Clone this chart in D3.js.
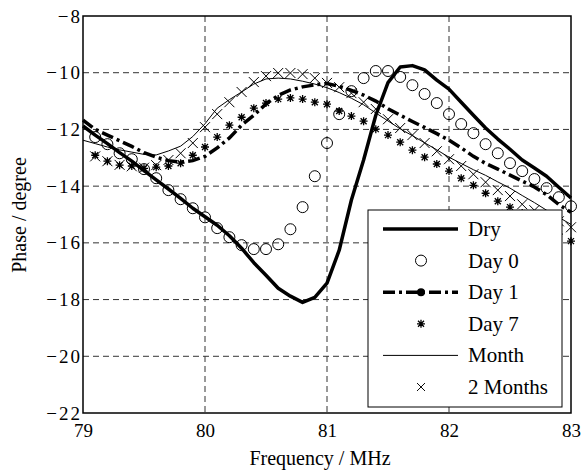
<!DOCTYPE html>
<html>
<head>
<meta charset="utf-8">
<script src="https://cdn.jsdelivr.net/npm/d3@7"></script>
<style>
  body { margin: 0; background: #fff; }
  svg, svg text { font-family: 'Liberation Serif', 'Times New Roman', Times, 'DejaVu Serif', serif !important; }
</style>
</head>
<body>
<div id="chart-area"></div>
<script>
// Frequency points of the measured curves (MHz)
var lineFreq = [79.0, 79.1, 79.2, 79.3, 79.4, 79.5, 79.6, 79.7, 79.8, 79.9,
  80.0, 80.1, 80.2, 80.3, 80.4, 80.5, 80.6, 80.7, 80.8, 80.9,
  81.0, 81.1, 81.2, 81.3, 81.4, 81.5, 81.6, 81.7, 81.8, 81.9,
  82.0, 82.1, 82.2, 82.3, 82.4, 82.5, 82.6, 82.7, 82.8, 82.9, 83.0];

// Frequency points of the marker-only series (MHz)
var markerFreq = [79.1, 79.2, 79.3, 79.4, 79.5, 79.6, 79.7, 79.8, 79.9,
  80.0, 80.1, 80.2, 80.3, 80.4, 80.5, 80.6, 80.7, 80.8, 80.9,
  81.0, 81.1, 81.2, 81.3, 81.4, 81.5, 81.6, 81.7, 81.8, 81.9,
  82.0, 82.1, 82.2, 82.3, 82.4, 82.5, 82.6, 82.7, 82.8, 82.9, 83.0];

// Phase (degree)
var dryPhase = [-11.88, -12.2, -12.5, -12.82, -13.12, -13.45, -13.78, -14.1, -14.43, -14.78,
  -15.08, -15.38, -15.75, -16.19, -16.7, -17.14, -17.6, -17.88, -18.1, -17.92,
  -17.42, -16.26, -14.49, -13.08, -11.5, -10.35, -9.8, -9.75, -9.9, -10.26,
  -10.58, -11.04, -11.5, -11.95, -12.34, -12.7, -13.08, -13.36, -13.65, -14.04, -14.42];

var day0Phase = [-12.27, -12.52, -12.84, -13.05, -13.40, -13.72, -14.14, -14.46, -14.78,
  -15.10, -15.48, -15.80, -16.08, -16.22, -16.22, -16.05, -15.52, -14.74, -13.65,
  -12.48, -11.46, -10.65, -10.19, -9.94, -9.94, -10.15, -10.44, -10.75, -11.07,
  -11.46, -11.81, -12.13, -12.52, -12.84, -13.19, -13.47, -13.75, -14.07, -14.39, -14.71];

var day1Phase = [-11.67, -12.0, -12.2, -12.4, -12.6, -12.82, -12.98, -13.1, -13.15, -13.1,
  -12.95, -12.65, -12.3, -11.85, -11.5, -11.1, -10.8, -10.61, -10.5, -10.43,
  -10.38, -10.48, -10.62, -10.79, -11.0, -11.27, -11.5, -11.72, -11.93, -12.15,
  -12.38, -12.65, -12.95, -13.2, -13.4, -13.61, -13.82, -14.03, -14.3, -14.65, -14.92];

var day7Phase = [-12.91, -13.12, -13.26, -13.29, -13.37, -13.33, -13.29, -13.19, -12.91,
  -12.62, -12.27, -11.85, -11.57, -11.25, -11.07, -10.93, -10.89, -10.93, -11.04,
  -11.11, -11.35, -11.53, -11.71, -11.99, -12.20, -12.45, -12.73, -12.98, -13.22,
  -13.47, -13.72, -13.97, -14.25, -14.53, -14.74, -14.95, -15.20, -15.45, -15.69, -15.94];

var monthPhase = [-12.38, -12.5, -12.62, -12.72, -12.8, -12.88, -12.9, -12.76, -12.59, -12.25,
  -11.8, -11.25, -10.95, -10.68, -10.4, -10.22, -10.19, -10.22, -10.3, -10.4,
  -10.53, -10.7, -10.9, -11.13, -11.42, -11.7, -11.98, -12.22, -12.47, -12.72,
  -12.98, -13.2, -13.42, -13.62, -13.85, -14.07, -14.33, -14.58, -14.85, -15.1, -15.35];

var month2Phase = [-12.95, -13.12, -13.25, -13.30, -13.35, -13.26, -13.08, -12.84, -12.48,
  -11.92, -11.46, -11.04, -10.68, -10.33, -10.12, -10.01, -10.01, -10.05, -10.19,
  -10.36, -10.51, -10.72, -11.04, -11.28, -11.64, -11.95, -12.20, -12.48, -12.77,
  -13.05, -13.29, -13.58, -13.86, -14.14, -14.35, -14.64, -14.85, -15.02, -15.24, -15.45];

var xTicks = [79, 80, 81, 82, 83];
var yTicks = [-22, -20, -18, -16, -14, -12, -10, -8];
var legendNames = ["Dry", "Day 0", "Day 1", "Day 7", "Month", "2 Months"];

// Chart setup
var margin = { left: 83, right: 10, top: 16, bottom: 59 };
var width = 581 - margin.left - margin.right;
var height = 472 - margin.top - margin.bottom;
var serif = "'Liberation Serif', 'Times New Roman', serif";

var svg = d3.select("#chart-area")
  .append("svg")
  .attr("width", 581)
  .attr("height", 472)
  .attr("font-family", serif);

var g = svg.append("g")
  .attr("transform", "translate(" + margin.left + ", " + margin.top + ")");

var xScale = d3.scaleLinear().domain([79, 83]).range([0, width]);
var yScale = d3.scaleLinear().domain([-22, -8]).range([height, 0]);

/* Grid */
g.append("g").selectAll("line")
  .data(xTicks.slice(1, -1)).enter()
  .append("line")
  .attr("x1", d => xScale(d)).attr("x2", d => xScale(d))
  .attr("y1", 0).attr("y2", height)
  .attr("stroke", "#333").attr("stroke-width", 1)
  .attr("stroke-dasharray", "6,4");

g.append("g").selectAll("line")
  .data(yTicks.slice(1, -1)).enter()
  .append("line")
  .attr("x1", 0).attr("x2", width)
  .attr("y1", d => yScale(d)).attr("y2", d => yScale(d))
  .attr("stroke", "#333").attr("stroke-width", 1)
  .attr("stroke-dasharray", "6,4");

/* Axes */
var xAxis = d3.axisBottom(xScale).tickValues(xTicks).tickFormat(d3.format("d"))
  .tickSize(0).tickPadding(11);
var yAxis = d3.axisLeft(yScale).tickValues(yTicks).tickFormat(d3.format("d"))
  .tickSize(0).tickPadding(1);

var xAxisGroup = g.append("g")
  .attr("transform", "translate(0, " + height + ")")
  .call(xAxis);
var yAxisGroup = g.append("g").call(yAxis);

[xAxisGroup, yAxisGroup].forEach(function (ax) {
  ax.attr("font-family", serif).attr("font-size", 19);
  ax.select(".domain").remove();
  ax.selectAll("text").attr("fill", "#000");
});
yAxisGroup.selectAll("text").attr("letter-spacing", "2px");

/* Lines */
function lineOf(freq, phase) {
  return d3.line()
    .x((d, i) => xScale(freq[i]))
    .y(d => yScale(d))(phase);
}

g.append("path")
  .attr("d", lineOf(lineFreq, monthPhase))
  .attr("fill", "none").attr("stroke", "#000").attr("stroke-width", 1);

g.append("path")
  .attr("d", lineOf(lineFreq, day1Phase))
  .attr("fill", "none").attr("stroke", "#000").attr("stroke-width", 3.5)
  .attr("stroke-dasharray", "12,4,3,4");

g.append("path")
  .attr("d", lineOf(lineFreq, dryPhase))
  .attr("fill", "none").attr("stroke", "#000").attr("stroke-width", 3.5)
  .attr("stroke-linejoin", "round");

/* Markers */
var starPath = "M-4,0L4,0M0,-4L0,4M-3,-3L3,3M-3,3L3,-3";
var crossPath = "M-5,-5L5,5M-5,5L5,-5";

g.append("g").selectAll("circle")
  .data(day0Phase).enter()
  .append("circle")
  .attr("cx", (d, i) => xScale(markerFreq[i]))
  .attr("cy", d => yScale(d))
  .attr("r", 5.5)
  .attr("fill", "none").attr("stroke", "#000").attr("stroke-width", 1);

g.append("g").selectAll("path")
  .data(day7Phase).enter()
  .append("path")
  .attr("transform", (d, i) => "translate(" + xScale(markerFreq[i]) + "," + yScale(d) + ")")
  .attr("d", starPath)
  .attr("stroke", "#000").attr("stroke-width", 1.3);

g.append("g").selectAll("path")
  .data(month2Phase).enter()
  .append("path")
  .attr("transform", (d, i) => "translate(" + xScale(markerFreq[i]) + "," + yScale(d) + ")")
  .attr("d", crossPath)
  .attr("stroke", "#000").attr("stroke-width", 1);

/* Legend */
var legend = g.append("g")
  .attr("transform", "translate(285, 194)");

legend.append("rect")
  .attr("width", 194).attr("height", 197)
  .attr("fill", "#fff").attr("stroke", "#000").attr("stroke-width", 1);

var rowY = d3.scalePoint().domain(legendNames).range([19, 177]);

legendNames.forEach(function (name) {
  var y = rowY(name);
  var row = legend.append("g").attr("transform", "translate(0," + y + ")");
  if (name === "Dry") {
    row.append("line").attr("x1", 15).attr("x2", 90)
      .attr("stroke", "#000").attr("stroke-width", 3.5);
  } else if (name === "Day 0") {
    row.append("circle").attr("cx", 53).attr("r", 5.5)
      .attr("fill", "none").attr("stroke", "#000");
  } else if (name === "Day 1") {
    row.append("line").attr("x1", 15).attr("x2", 90)
      .attr("stroke", "#000").attr("stroke-width", 3.5)
      .attr("stroke-dasharray", "12,4,3,4");
    row.append("circle").attr("cx", 53).attr("r", 4).attr("fill", "#000");
  } else if (name === "Day 7") {
    row.append("path").attr("transform", "translate(53,0)")
      .attr("d", starPath).attr("stroke", "#000").attr("stroke-width", 1.3);
  } else if (name === "Month") {
    row.append("line").attr("x1", 15).attr("x2", 90)
      .attr("stroke", "#000").attr("stroke-width", 1);
  } else {
    row.append("path").attr("transform", "translate(53,0) scale(0.8)")
      .attr("d", crossPath).attr("stroke", "#000").attr("stroke-width", 1.2);
  }
  row.append("text")
    .attr("x", 100).attr("y", 7)
    .attr("font-size", "21px")
    .text(name);
});

/* Frame */
g.append("rect")
  .attr("width", width).attr("height", height)
  .attr("fill", "none").attr("stroke", "#000").attr("stroke-width", 1.5);

/* Axis titles */
svg.append("text")
  .attr("x", margin.left + width / 2 - 7)
  .attr("y", 465)
  .attr("text-anchor", "middle")
  .attr("font-size", "20px")
  .text("Frequency / MHz");

svg.append("text")
  .attr("transform", "translate(26, 215) rotate(-90)")
  .attr("text-anchor", "middle")
  .attr("font-size", "20px")
  .text("Phase / degree");
</script>
</body>
</html>
